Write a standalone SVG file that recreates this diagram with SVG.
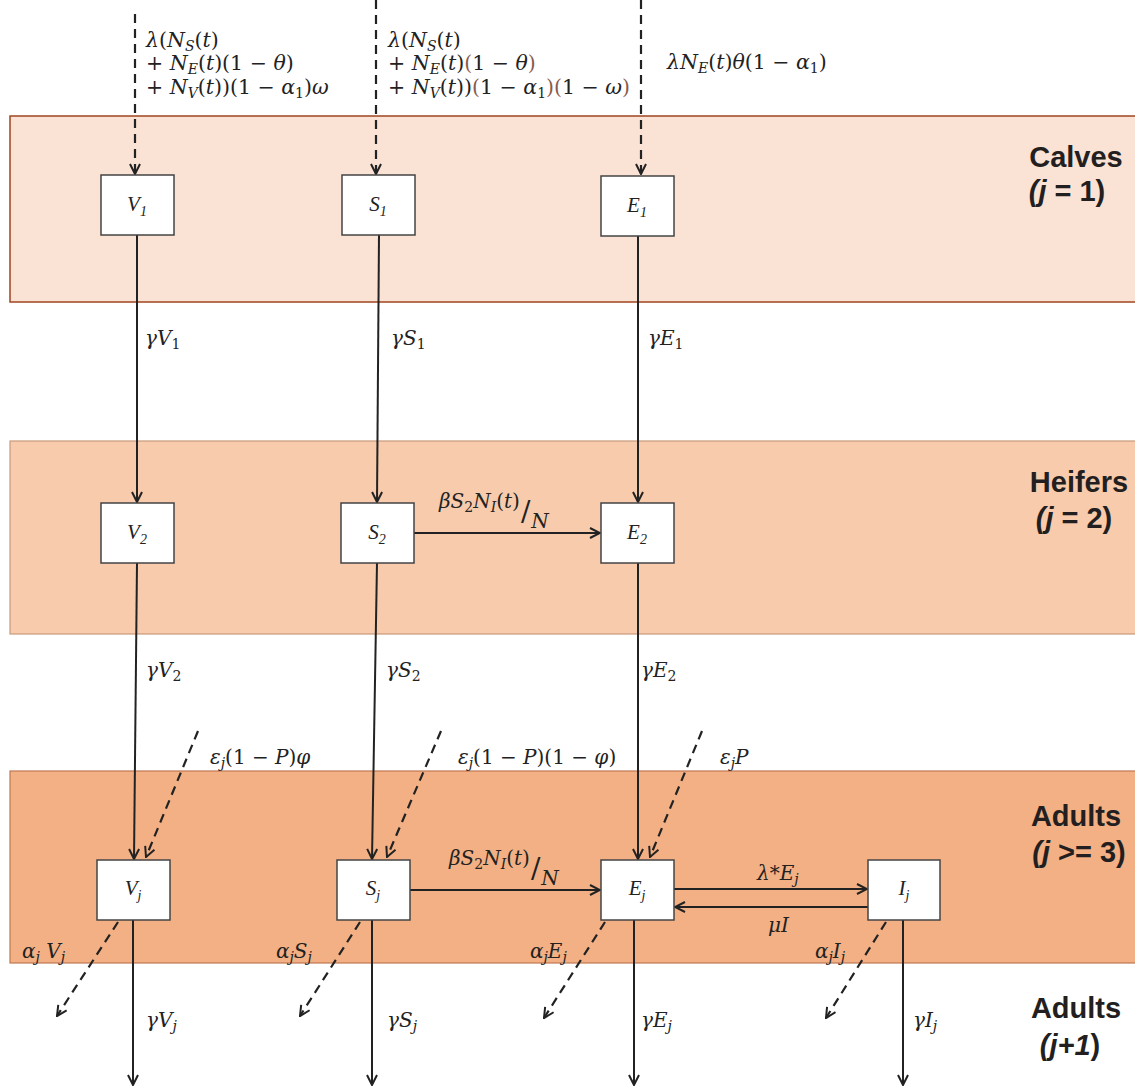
<svg xmlns="http://www.w3.org/2000/svg" width="1135" height="1088" viewBox="0 0 1135 1088">
<defs>
<style>
.m{font-family:"DejaVu Serif","Liberation Serif",serif;font-size:20px;fill:#222}
.t{font-size:20.5px}
.i{font-style:italic}
.br{fill:#8b5a4a}
.box{fill:#fff;stroke:#444;stroke-width:1.5}
.bl{font-family:"Liberation Serif",serif;font-style:italic;font-size:21px;fill:#222;text-anchor:middle}
.band{font-family:"Liberation Sans","Arial",sans-serif;font-weight:bold;font-size:29px;fill:#231f20;text-anchor:middle}
.s{stroke:#222;stroke-width:2;fill:none}
.d{stroke:#222;stroke-width:2.2;fill:none;stroke-dasharray:9 6}
</style>
<marker id="ah" viewBox="0 0 12 12" refX="11" refY="6" markerWidth="12" markerHeight="12" markerUnits="userSpaceOnUse" orient="auto">
<path d="M1,1 L11,6 L1,11" fill="none" stroke="#222" stroke-width="2"/>
</marker>
</defs>
<rect width="1135" height="1088" fill="#fff"/>
<g id="bands">
<rect x="10" y="116" width="1130" height="186" fill="#fae2d4" stroke="#a0461f" stroke-width="1.5"/>
<rect x="10" y="441" width="1130" height="193" fill="#f7cbac" stroke="#c99a7c" stroke-width="1.2"/>
<rect x="10" y="771" width="1130" height="192" fill="#f2b084" stroke="#c07850" stroke-width="1.2"/>
<text class="band" x="1076" y="167">Calves</text>
<text class="band" x="1067" y="201"><tspan font-style="italic">(j</tspan> = 1)</text>
<text class="band" x="1079" y="492">Heifers</text>
<text class="band" x="1074" y="528"><tspan font-style="italic">(j</tspan> = 2)</text>
<text class="band" x="1076" y="826">Adults</text>
<text class="band" x="1079" y="862"><tspan font-style="italic">(j</tspan> &gt;= 3)</text>
<text class="band" x="1076" y="1018">Adults</text>
<text class="band" x="1070" y="1055"><tspan font-style="italic">(j+1</tspan>)</text>
</g>
<g id="connectors">
<line class="d" x1="135" y1="14" x2="135" y2="174" marker-end="url(#ah)"/>
<line class="d" x1="376" y1="0" x2="376" y2="174" marker-end="url(#ah)"/>
<line class="d" x1="641" y1="0" x2="641" y2="174" marker-end="url(#ah)"/>
<line class="s" x1="137" y1="235" x2="137" y2="502" marker-end="url(#ah)"/>
<line class="s" x1="379" y1="235" x2="377" y2="502" marker-end="url(#ah)"/>
<line class="s" x1="638" y1="235" x2="638" y2="502" marker-end="url(#ah)"/>
<line class="s" x1="414" y1="533" x2="600" y2="533" marker-end="url(#ah)"/>
<line class="s" x1="137" y1="563" x2="134" y2="859" marker-end="url(#ah)"/>
<line class="s" x1="377" y1="563" x2="372" y2="859" marker-end="url(#ah)"/>
<line class="s" x1="638" y1="563" x2="638" y2="859" marker-end="url(#ah)"/>
<line class="d" x1="198" y1="731" x2="146" y2="857" marker-end="url(#ah)"/>
<line class="d" x1="441" y1="731" x2="387" y2="857" marker-end="url(#ah)"/>
<line class="d" x1="702" y1="731" x2="650" y2="857" marker-end="url(#ah)"/>
<line class="s" x1="410" y1="890" x2="600" y2="890" marker-end="url(#ah)"/>
<line class="s" x1="674" y1="889" x2="867" y2="889" marker-end="url(#ah)"/>
<line class="s" x1="868" y1="907" x2="675" y2="907" marker-end="url(#ah)"/>
<line class="d" x1="118" y1="922" x2="57" y2="1016" marker-end="url(#ah)"/>
<line class="d" x1="360" y1="922" x2="300" y2="1016" marker-end="url(#ah)"/>
<line class="d" x1="605" y1="922" x2="544" y2="1018" marker-end="url(#ah)"/>
<line class="d" x1="886" y1="922" x2="826" y2="1018" marker-end="url(#ah)"/>
<line class="s" x1="133" y1="920" x2="133" y2="1085" marker-end="url(#ah)"/>
<line class="s" x1="372" y1="920" x2="372" y2="1085" marker-end="url(#ah)"/>
<line class="s" x1="634" y1="920" x2="634" y2="1085" marker-end="url(#ah)"/>
<line class="s" x1="903" y1="920" x2="903" y2="1085" marker-end="url(#ah)"/>
</g>
<g id="labels">
<text class="m t" x="146" y="47"><tspan class="i">λ</tspan>(<tspan class="i">N</tspan><tspan class="i" font-size="14" dy="4">S</tspan><tspan dy="-4">(</tspan><tspan class="i">t</tspan>)</text>
<text class="m t" x="146" y="70">+  <tspan class="i">N</tspan><tspan class="i" font-size="14" dy="4">E</tspan><tspan dy="-4">(</tspan><tspan class="i">t</tspan>)(1 − <tspan class="i">θ</tspan>)</text>
<text class="m t" x="146" y="94">+ <tspan class="i">N</tspan><tspan class="i" font-size="14" dy="4">V</tspan><tspan dy="-4">(</tspan><tspan class="i">t</tspan>))(1 − <tspan class="i">α</tspan><tspan font-size="14" dy="4">1</tspan><tspan dy="-4">)</tspan><tspan class="i">ω</tspan></text>
<text class="m t" x="388" y="47"><tspan class="i">λ</tspan>(<tspan class="i">N</tspan><tspan class="i" font-size="14" dy="4">S</tspan><tspan dy="-4">(</tspan><tspan class="i">t</tspan>)</text>
<text class="m t" x="388" y="70">+ <tspan class="i">N</tspan><tspan class="i" font-size="14" dy="4">E</tspan><tspan dy="-4">(</tspan><tspan class="i">t</tspan>)<tspan class="br">(</tspan>1 − <tspan class="i">θ</tspan><tspan class="br">)</tspan></text>
<text class="m t" x="388" y="94">+ <tspan class="i">N</tspan><tspan class="i" font-size="14" dy="4">V</tspan><tspan dy="-4">(</tspan><tspan class="i">t</tspan>))<tspan class="br">(</tspan>1 − <tspan class="i">α</tspan><tspan font-size="14" dy="4">1</tspan><tspan class="br" dy="-4">)(</tspan>1 − <tspan class="i">ω</tspan><tspan class="br">)</tspan></text>
<text class="m t" x="667" y="69"><tspan class="i">λN</tspan><tspan class="i" font-size="14" dy="4">E</tspan><tspan dy="-4">(</tspan><tspan class="i">t</tspan>)<tspan class="i">θ</tspan>(1 − <tspan class="i">α</tspan><tspan font-size="14" dy="4">1</tspan><tspan dy="-4">)</tspan></text>
<text class="m" x="145" y="345"><tspan class="i">γV</tspan><tspan font-size="14" dy="4">1</tspan></text>
<text class="m" x="391" y="345"><tspan class="i">γS</tspan><tspan font-size="14" dy="4">1</tspan></text>
<text class="m" x="648" y="345"><tspan class="i">γE</tspan><tspan font-size="14" dy="4">1</tspan></text>
<text class="m" x="146" y="677"><tspan class="i">γV</tspan><tspan font-size="14" dy="4">2</tspan></text>
<text class="m" x="386" y="677"><tspan class="i">γS</tspan><tspan font-size="14" dy="4">2</tspan></text>
<text class="m" x="641" y="677"><tspan class="i">γE</tspan><tspan font-size="14" dy="4">2</tspan></text>
<text class="m" x="439" y="508"><tspan class="i">βS</tspan><tspan font-size="14" dy="4">2</tspan><tspan class="i" dy="-4">N</tspan><tspan class="i" font-size="14" dy="4">I</tspan><tspan dy="-4">(</tspan><tspan class="i">t</tspan>)<tspan font-size="28" dx="1" dy="13">/</tspan><tspan class="i" dx="1" dy="7">N</tspan></text>
<text class="m" x="449" y="865"><tspan class="i">βS</tspan><tspan font-size="14" dy="4">2</tspan><tspan class="i" dy="-4">N</tspan><tspan class="i" font-size="14" dy="4">I</tspan><tspan dy="-4">(</tspan><tspan class="i">t</tspan>)<tspan font-size="28" dx="1" dy="13">/</tspan><tspan class="i" dx="1" dy="7">N</tspan></text>
<text class="m" x="757" y="880"><tspan class="i">λ</tspan>*<tspan class="i">E</tspan><tspan class="i" font-size="14" dy="4">j</tspan></text>
<text class="m" x="768" y="932"><tspan class="i">μI</tspan></text>
<text class="m" x="210" y="764"><tspan class="i">ε</tspan><tspan class="i" font-size="14" dy="4">j</tspan><tspan dy="-4">(1 − </tspan><tspan class="i">P</tspan>)<tspan class="i">φ</tspan></text>
<text class="m" x="458" y="764"><tspan class="i">ε</tspan><tspan class="i" font-size="14" dy="4">j</tspan><tspan dy="-4">(1 − </tspan><tspan class="i">P</tspan>)(1 − <tspan class="i">φ</tspan>)</text>
<text class="m" x="720" y="764"><tspan class="i">ε</tspan><tspan class="i" font-size="14" dy="4">j</tspan><tspan class="i" dy="-4">P</tspan></text>
<text class="m" x="22" y="958"><tspan class="i">α</tspan><tspan class="i" font-size="14" dy="4">j</tspan><tspan class="i" dy="-4"> V</tspan><tspan class="i" font-size="14" dy="4">j</tspan></text>
<text class="m" x="276" y="958"><tspan class="i">α</tspan><tspan class="i" font-size="14" dy="4">j</tspan><tspan class="i" dy="-4">S</tspan><tspan class="i" font-size="14" dy="4">j</tspan></text>
<text class="m" x="530" y="958"><tspan class="i">α</tspan><tspan class="i" font-size="14" dy="4">j</tspan><tspan class="i" dy="-4">E</tspan><tspan class="i" font-size="14" dy="4">j</tspan></text>
<text class="m" x="815" y="958"><tspan class="i">α</tspan><tspan class="i" font-size="14" dy="4">j</tspan><tspan class="i" dy="-4">I</tspan><tspan class="i" font-size="14" dy="4">j</tspan></text>
<text class="m" x="146" y="1027"><tspan class="i">γV</tspan><tspan class="i" font-size="14" dy="4">j</tspan></text>
<text class="m" x="387" y="1027"><tspan class="i">γS</tspan><tspan class="i" font-size="14" dy="4">j</tspan></text>
<text class="m" x="641" y="1027"><tspan class="i">γE</tspan><tspan class="i" font-size="14" dy="4">j</tspan></text>
<text class="m" x="913" y="1027"><tspan class="i">γI</tspan><tspan class="i" font-size="14" dy="4">j</tspan></text>
</g>
<g id="V1"><rect class="box" x="101" y="175" width="73" height="60"/><text class="bl" x="137" y="211">V<tspan font-size="14" dy="5">1</tspan></text></g>
<g id="S1"><rect class="box" x="342" y="175" width="73" height="60"/><text class="bl" x="378" y="211">S<tspan font-size="14" dy="5">1</tspan></text></g>
<g id="E1"><rect class="box" x="601" y="176" width="73" height="60"/><text class="bl" x="637" y="212">E<tspan font-size="14" dy="5">1</tspan></text></g>
<g id="V2"><rect class="box" x="101" y="503" width="73" height="60"/><text class="bl" x="137" y="539">V<tspan font-size="14" dy="5">2</tspan></text></g>
<g id="S2"><rect class="box" x="341" y="503" width="73" height="60"/><text class="bl" x="377" y="539">S<tspan font-size="14" dy="5">2</tspan></text></g>
<g id="E2"><rect class="box" x="601" y="503" width="73" height="60"/><text class="bl" x="637" y="539">E<tspan font-size="14" dy="5">2</tspan></text></g>
<g id="Vj"><rect class="box" x="97" y="860" width="73" height="60"/><text class="bl" x="133" y="895">V<tspan font-size="14" dy="5">j</tspan></text></g>
<g id="Sj"><rect class="box" x="337" y="860" width="73" height="60"/><text class="bl" x="373" y="895">S<tspan font-size="14" dy="5">j</tspan></text></g>
<g id="Ej"><rect class="box" x="601" y="860" width="73" height="60"/><text class="bl" x="637" y="895">E<tspan font-size="14" dy="5">j</tspan></text></g>
<g id="Ij"><rect class="box" x="868" y="860" width="72" height="60"/><text class="bl" x="904" y="895">I<tspan font-size="14" dy="5">j</tspan></text></g>
</svg>
